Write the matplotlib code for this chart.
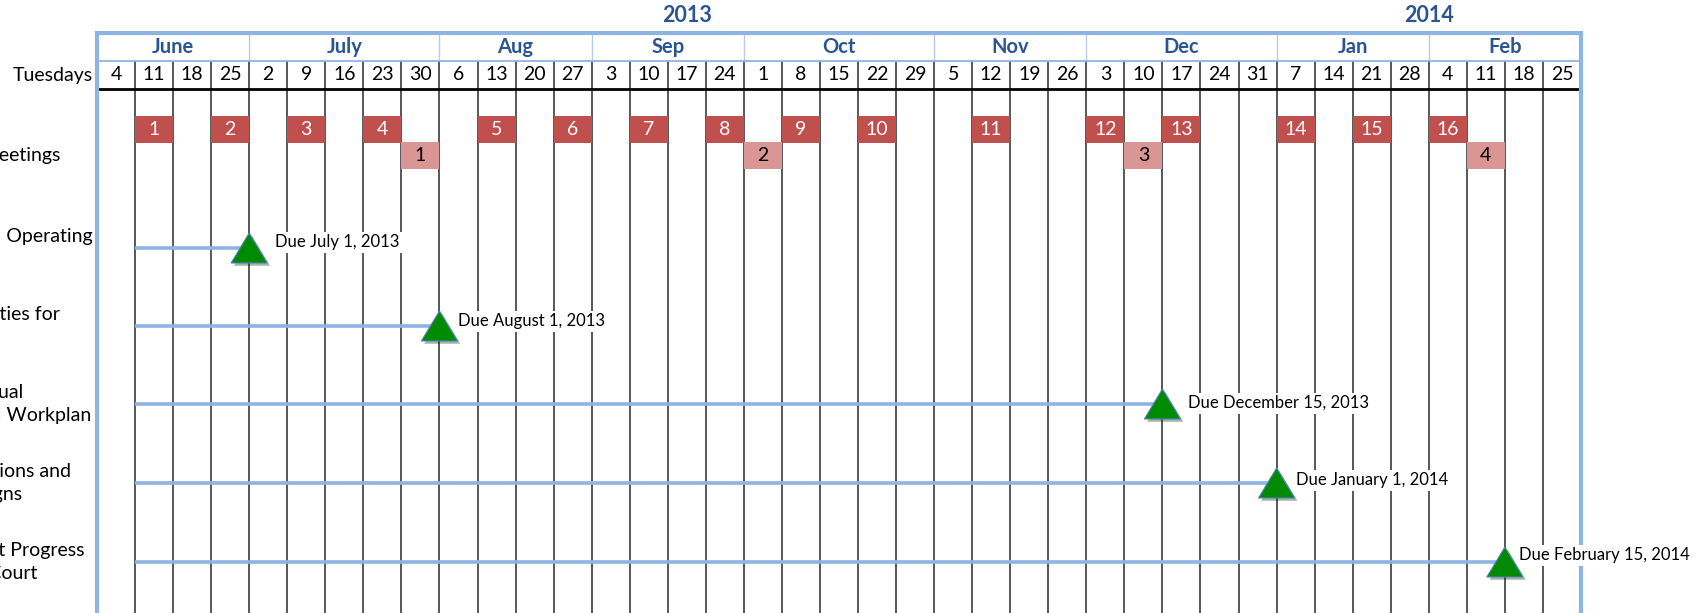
import matplotlib
matplotlib.use('Agg')
import matplotlib.pyplot as plt
from matplotlib.patches import Rectangle
import matplotlib.patheffects as pe

plt.rcParams['font.family'] = ['Lato', 'DejaVu Sans']

# ---------------- data ----------------
years = ['2013', '2014']
year_month_counts = [7, 2]          # number of months under each year
months = ['June', 'July', 'Aug', 'Sep', 'Oct', 'Nov', 'Dec', 'Jan', 'Feb']
month_days = [
    [4, 11, 18, 25],
    [2, 9, 16, 23, 30],
    [6, 13, 20, 27],
    [3, 10, 17, 24],
    [1, 8, 15, 22, 29],
    [5, 12, 19, 26],
    [3, 10, 17, 24, 31],
    [7, 14, 21, 28],
    [4, 11, 18, 25],
]
week_header = 'Tuesdays'

meeting_label = 'Court Meetings'
meeting_weeks = [1, 3, 5, 7, 10, 12, 14, 16, 18, 20, 23, 26, 28, 31, 33, 35]
meeting_numbers = ['1', '2', '3', '4', '5', '6', '7', '8', '9', '10',
                   '11', '12', '13', '14', '15', '16']
special_weeks = [8, 17, 27, 36]
special_numbers = ['1', '2', '3', '4']

task_labels = [
    'Submit Annual Operating\nPlan',
    'Establish Priorities for\nFY 2014',
    'Complete Annual\nBudget & Final Workplan',
    'Conduct Evaluations and\nProgram Redesigns',
    'Submit First Progress\nReport to Court',
]
task_start_week = [1, 1, 1, 1, 1]
task_due_week = [4, 9, 28, 31, 37]
task_due_text = ['Due July 1, 2013', 'Due August 1, 2013', 'Due December 15, 2013',
                 'Due January 1, 2014', 'Due February 15, 2014']

# ---------------- layout (pixels) ----------------
W, H, DPI = 1699, 613, 100
grid_left, grid_right = 97, 1581
top_y, month_sep_y, day_line_y = 33, 61, 89
year_y, month_y, day_y = 16, 47, 75
meet_top, meet_h = 116, 27
special_top = 142
task_rows_y = [248, 326, 404, 483, 562]
task_label_right_px = [93, 60, 91, 71, 85]
task_text_dx_px = [26, 19, 26, 19, 14]
task_text_dy_px = [-6, -5, -1, -3, -7]
meeting_label_right_px = 60
meeting_label_y = 155

BLUE_BORDER = '#8DB4E2'
BLUE_SEP = '#B7CDEA'
TEXT_BLUE = '#2B5592'
DARK_RED = '#C0504D'
LIGHT_RED = '#D99694'
GREEN = '#008A00'
GRID = '#2A2A2A'

n_weeks = sum(len(d) for d in month_days)
cw = (grid_right - grid_left) / n_weeks

fig = plt.figure(figsize=(W / DPI, H / DPI), dpi=DPI)
ax = fig.add_axes([0, 0, 1, 1])
ax.set_xlim(-grid_left / cw, (W - grid_left) / cw)
ax.set_ylim(H, 0)
ax.axis('off')


def px2x(px):
    return (px - grid_left) / cw


# grid lines in the body and day row
inner = list(range(1, n_weeks))
ax.vlines(inner, day_line_y, H + 5, color=GRID, lw=1.1, zorder=1)
ax.vlines(inner, month_sep_y, day_line_y, color=GRID, lw=1.1, zorder=1)

# month separators
bounds = [0]
for d in month_days:
    bounds.append(bounds[-1] + len(d))
ax.vlines(bounds[1:-1], top_y, month_sep_y, color=BLUE_SEP, lw=1.0, zorder=1)
ax.hlines(month_sep_y, 0, n_weeks, color=BLUE_BORDER, lw=1.3, zorder=2)
ax.hlines(day_line_y, 0, n_weeks, color='black', lw=2.0, zorder=2)

# outer border
ax.plot([0, 0, n_weeks, n_weeks], [H + 10, top_y, top_y, H + 10],
        color=BLUE_BORDER, lw=3.0, solid_joinstyle='miter', zorder=3)

# year labels
start = 0
for yr, cnt in zip(years, year_month_counts):
    s = bounds[start]
    e = bounds[start + cnt]
    ax.text((s + e) / 2, year_y, yr, ha='center', va='center', fontsize=15.5,
            fontweight='bold', color=TEXT_BLUE)
    start += cnt

# month labels and day numbers
for i, (m, days) in enumerate(zip(months, month_days)):
    ax.text((bounds[i] + bounds[i + 1]) / 2, month_y, m, ha='center', va='center',
            fontsize=14.5, fontweight='bold', color=TEXT_BLUE)
    for j, d in enumerate(days):
        ax.text(bounds[i] + j + 0.5, day_y, str(d), ha='center', va='center',
                fontsize=14, color='black')
ax.text(px2x(93), day_y, week_header, ha='right', va='center', fontsize=14,
        color='black')

# meetings
for w, lab in zip(meeting_weeks, meeting_numbers):
    ax.add_patch(Rectangle((w, meet_top), 1, meet_h, facecolor=DARK_RED,
                           edgecolor='none', zorder=4))
    ax.text(w + 0.5, meet_top + meet_h / 2, lab, ha='center', va='center',
            fontsize=14, color='white', zorder=5)
for w, lab in zip(special_weeks, special_numbers):
    ax.add_patch(Rectangle((w, special_top), 1, meet_h, facecolor=LIGHT_RED,
                           edgecolor='none', zorder=4))
    ax.text(w + 0.5, special_top + meet_h / 2, lab, ha='center', va='center',
            fontsize=14, color='black', zorder=5)
ax.text(px2x(meeting_label_right_px), meeting_label_y, meeting_label,
        ha='right', va='center', fontsize=14, color='black')

# tasks
tri = [(0, 0.83), (-1, -0.83), (1, -0.83), (0, 0.83)]
for lab, s, d, txt, y, rpx, dx, dy in zip(task_labels, task_start_week,
                                          task_due_week, task_due_text,
                                          task_rows_y, task_label_right_px,
                                          task_text_dx_px, task_text_dy_px):
    ax.plot([s, d], [y, y], color=BLUE_BORDER, lw=2.6, zorder=5,
            solid_capstyle='butt')
    ax.plot([d], [y], marker=tri, markersize=26, color=GREEN,
            markeredgecolor='#4F81BD', markeredgewidth=0.8, zorder=7,
            path_effects=[pe.SimplePatchShadow(offset=(2, -2), alpha=0.35),
                          pe.Normal()])
    ax.text(d + dx / cw, y + dy, txt, ha='left', va='center', fontsize=12,
            color='black', zorder=6,
            bbox=dict(boxstyle='square,pad=0.15', facecolor='white',
                      edgecolor='none'))
    ax.text(px2x(rpx), y, lab, ha='right', va='center', multialignment='left',
            fontsize=14, linespacing=1.4, color='black')

fig.savefig('out.png', dpi=DPI)
